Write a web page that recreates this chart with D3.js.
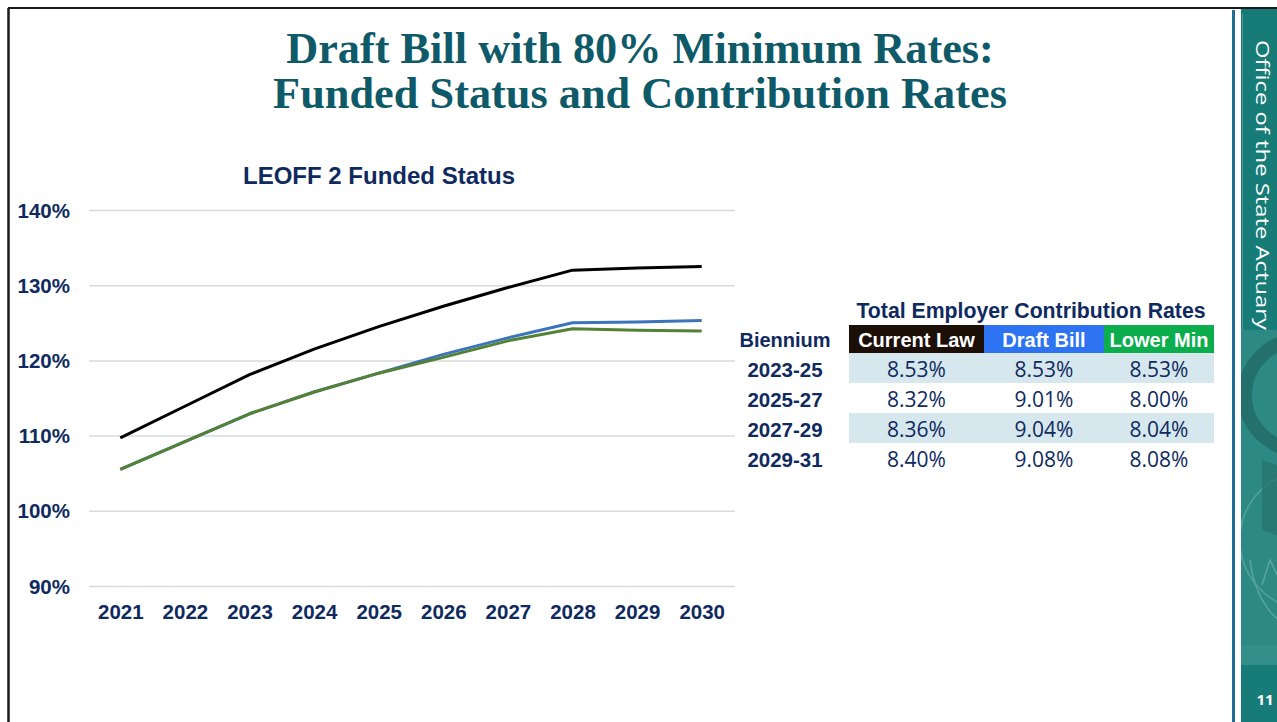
<!DOCTYPE html>
<html>
<head>
<meta charset="utf-8">
<script src="https://cdn.jsdelivr.net/npm/d3@7"></script>
<style>
  html, body { margin: 0; padding: 0; background: #fff; }
  svg { display: block; }
</style>
</head>
<body>
<svg id="slide" width="1277" height="722"></svg>
<script>
// ---- Data ----
const years = [2021, 2022, 2023, 2024, 2025, 2026, 2027, 2028, 2029, 2030];
const currentLaw = [109.7, 113.9, 118.1, 121.5, 124.5, 127.2, 129.7, 132.0, 132.3, 132.5];
const draftBill  = [105.5, 109.2, 112.9, 115.8, 118.3, 120.8, 123.0, 125.0, 125.1, 125.3];
const lowerMin   = [105.5, 109.2, 112.9, 115.8, 118.3, 120.4, 122.6, 124.2, 124.0, 123.9];
const yTicks = [90, 100, 110, 120, 130, 140];

const bienniums = ["2023-25", "2025-27", "2027-29", "2029-31"];
const rateColumns = ["Current Law", "Draft Bill", "Lower Min"];
const currentLawRates = [8.53, 8.32, 8.36, 8.40];
const draftBillRates  = [8.53, 9.01, 9.04, 9.08];
const lowerMinRates   = [8.53, 8.00, 8.04, 8.08];

const NAVY = "#0f2a5e";
const svg = d3.select("#slide");

// Shrink or grow a text element's font size until it spans the wanted width
function fitWidth(sel, width) {
  const w = sel.node().getComputedTextLength();
  const fs = parseFloat(sel.attr("font-size"));
  sel.attr("font-size", (fs * width / w).toFixed(2));
  return sel;
}

// ---- Slide frame ----
svg.append("line").attr("x1", 8).attr("x2", 1277).attr("y1", 8).attr("y2", 8)
  .attr("stroke", "#1a1a1a").attr("stroke-width", 2);
svg.append("line").attr("x1", 8.5).attr("x2", 8.5).attr("y1", 8).attr("y2", 722)
  .attr("stroke", "#1a1a1a").attr("stroke-width", 2.5);

// ---- Side banner ----
const side = svg.append("g");
side.append("rect").attr("x", 1232).attr("y", 10).attr("width", 3).attr("height", 712).attr("fill", "#1f6d96");
side.append("rect").attr("x", 1241).attr("y", 9).attr("width", 36).attr("height", 713).attr("fill", "#177b77");
side.append("line").attr("x1", 1242.5).attr("x2", 1242.5).attr("y1", 14).attr("y2", 330)
  .attr("stroke", "#4c9a96").attr("stroke-width", 1);

// decorative emblem band
side.append("clipPath").attr("id", "bandClip")
  .append("rect").attr("x", 1241).attr("y", 330).attr("width", 36).attr("height", 335);
const band = side.append("g").attr("clip-path", "url(#bandClip)");
band.append("rect").attr("x", 1241).attr("y", 330).attr("width", 36).attr("height", 335).attr("fill", "#2c8984");
band.append("circle").attr("cx", 1300).attr("cy", 395).attr("r", 55).attr("fill", "none")
  .attr("stroke", "#23706c").attr("stroke-width", 14);
band.append("circle").attr("cx", 1310).attr("cy", 540).attr("r", 70).attr("fill", "none")
  .attr("stroke", "#57a29e").attr("stroke-width", 1.5);
band.append("path").attr("d", "M1262,460 L1290,470 L1290,540 L1262,530 Z").attr("fill", "#27716d").attr("opacity", 0.7);
band.append("path").attr("d", "M1250,560 C1255,600 1275,625 1300,630").attr("fill", "none")
  .attr("stroke", "#5aa39f").attr("stroke-width", 1.5);
band.append("path").attr("d", "M1262,585 L1270,560 L1282,585").attr("fill", "none")
  .attr("stroke", "#5aa39f").attr("stroke-width", 1.5);
band.append("rect").attr("x", 1241).attr("y", 645).attr("width", 36).attr("height", 20).attr("fill", "#3b938e").attr("opacity", 0.6);

side.append("text")
  .attr("transform", "translate(1256,40) rotate(90)")
  .attr("font-family", "'Open Sans', sans-serif").attr("font-size", 19)
  .attr("textLength", 290).attr("lengthAdjust", "spacingAndGlyphs")
  .attr("fill", "#ffffff").text("Office of the State Actuary");

side.append("text").attr("x", 1265).attr("y", 705).attr("text-anchor", "middle")
  .attr("font-family", "'Open Sans', sans-serif").attr("font-weight", 700).attr("font-size", 15)
  .attr("fill", "#ffffff").text("11");

// ---- Slide title ----
const titleLines = ["Draft Bill with 80% Minimum Rates:", "Funded Status and Contribution Rates"];
const titleG = svg.append("g");
const t2 = titleG.append("text").attr("x", 640).attr("y", 108).attr("text-anchor", "middle")
  .attr("font-family", "'Liberation Serif', 'DejaVu Serif', serif").attr("font-weight", 700)
  .attr("font-size", 38).attr("fill", "#0e5a68").text(titleLines[1]);
fitWidth(t2, 734);
titleG.append("text").attr("x", 640).attr("y", 63).attr("text-anchor", "middle")
  .attr("font-family", "'Liberation Serif', 'DejaVu Serif', serif").attr("font-weight", 700)
  .attr("font-size", t2.attr("font-size")).attr("fill", "#0e5a68").text(titleLines[0]);

// ---- Funded status line chart ----
const x = d3.scalePoint().domain(years).range([88, 734]).padding(0.5);
const y = d3.scaleLinear().domain([90, 140]).range([586, 210]);
const chart = svg.append("g");

chart.append("text").attr("x", 379).attr("y", 184).attr("text-anchor", "middle")
  .attr("font-family", "'Liberation Sans', Arial, sans-serif").attr("font-weight", 700)
  .attr("font-size", 24).attr("fill", NAVY).text("LEOFF 2 Funded Status");

const yAxis = d3.axisLeft(y).tickValues(yTicks).tickSize(-(735 - 89)).tickFormat(d => d + "%");
const yg = chart.append("g").attr("transform", "translate(89,0)").call(yAxis);
yg.select(".domain").remove();
yg.selectAll(".tick line").attr("stroke", "#d9d9d9").attr("stroke-width", 1.5);
yg.selectAll(".tick text").attr("x", -19).attr("dy", "0.35em")
  .attr("font-family", "'Liberation Sans', Arial, sans-serif").attr("font-weight", 700)
  .attr("font-size", 20.5).attr("fill", NAVY);

const xAxis = d3.axisBottom(x).tickSize(0).tickPadding(0);
const xg = chart.append("g").attr("transform", "translate(0,604)").call(xAxis);
xg.select(".domain").remove();
xg.selectAll(".tick text").attr("dy", "0.71em")
  .attr("font-family", "'Liberation Sans', Arial, sans-serif").attr("font-weight", 700)
  .attr("font-size", 20.5).attr("fill", NAVY);

const line = d3.line().x((d, i) => x(years[i])).y(d => y(d));
[[currentLaw, "#000000"], [draftBill, "#3b74ba"], [lowerMin, "#538135"]].forEach(([vals, col]) => {
  chart.append("path").datum(vals).attr("d", line).attr("fill", "none")
    .attr("stroke", col).attr("stroke-width", 3).attr("stroke-linejoin", "round");
});

// ---- Contribution rate table ----
const table = svg.append("g");
const colEdges = [849, 984, 1104, 1214];
const colColors = ["#1c0f08", "#2e74f2", "#0bad4c"];
const rows = d3.scaleBand().domain(bienniums).range([353, 473]);
const rateData = [currentLawRates, draftBillRates, lowerMinRates];
const fmt = d => d3.format(".2f")(d) + "%";

const tTitle = table.append("text").attr("x", 1031).attr("y", 318).attr("text-anchor", "middle")
  .attr("font-family", "'Liberation Sans', Arial, sans-serif").attr("font-weight", 700)
  .attr("font-size", 19).attr("fill", NAVY).text("Total Employer Contribution Rates");
fitWidth(tTitle, 349);

// shaded banding on alternate rows
bienniums.forEach((b, i) => {
  if (i % 2 === 0) {
    table.append("rect").attr("x", colEdges[0]).attr("y", rows(b))
      .attr("width", colEdges[3] - colEdges[0]).attr("height", rows.bandwidth()).attr("fill", "#d6e8ee");
  }
});

table.append("text").attr("x", 785).attr("y", 347).attr("text-anchor", "middle")
  .attr("font-family", "'Liberation Sans', Arial, sans-serif").attr("font-weight", 700)
  .attr("font-size", 20).attr("fill", NAVY).text("Biennium");

rateColumns.forEach((c, j) => {
  const x0 = colEdges[j], x1 = colEdges[j + 1], cx = (x0 + x1) / 2;
  table.append("rect").attr("x", x0).attr("y", 325).attr("width", x1 - x0).attr("height", 28).attr("fill", colColors[j]);
  table.append("text").attr("x", cx).attr("y", 347).attr("text-anchor", "middle")
    .attr("font-family", "'Liberation Sans', Arial, sans-serif").attr("font-weight", 700)
    .attr("font-size", 20).attr("fill", "#ffffff").text(c);
  rateData[j].forEach((v, i) => {
    table.append("text").attr("x", cx).attr("y", rows(bienniums[i]) + 24).attr("text-anchor", "middle")
      .attr("font-family", "'Open Sans', sans-serif").attr("font-size", 21)
      .attr("fill", NAVY).text(fmt(v));
  });
});

bienniums.forEach(b => {
  table.append("text").attr("x", 785).attr("y", rows(b) + 24).attr("text-anchor", "middle")
    .attr("font-family", "'Liberation Sans', Arial, sans-serif").attr("font-weight", 700)
    .attr("font-size", 20.5).attr("fill", NAVY).text(b);
});
</script>
</body>
</html>
